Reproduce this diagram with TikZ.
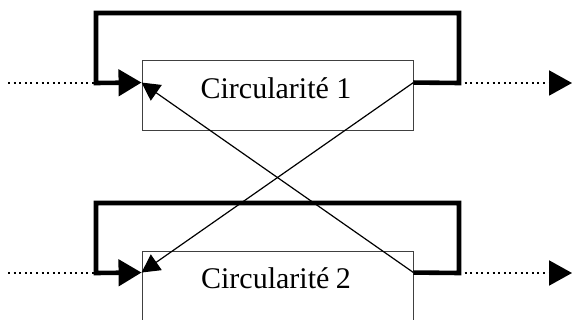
\documentclass[tikz,border=0pt]{standalone}
\usepackage{fontspec}
\setmainfont{Liberation Serif}
\usetikzlibrary{arrows.meta,calc}
\begin{document}
\begin{tikzpicture}[x=1pt,y=1pt,
  boxstyle/.style={draw=black!75,line width=0.9pt,rectangle,minimum width=271pt,minimum height=70pt,inner sep=0pt},
  lbl/.style={font=\fontsize{30}{36}\selectfont,inner sep=0pt,anchor=base},
  loopline/.style={line width=4.6pt,line join=miter,-{Triangle[length=23pt,width=26pt]}},
  dotline/.style={line width=2pt,dash pattern=on 2pt off 3.6pt},
  dotarrow/.style={dotline,-{Triangle[length=23pt,width=25pt]}},
  crossline/.style={line width=1.2pt,-{Triangle[length=18pt,width=19pt]}}]
\useasboundingbox (0,0) rectangle (572,320);
\node[boxstyle] (box1) at (277.5,225) {};
\node[boxstyle] (box2) at (277.5,34) {};
\node[lbl] (t1) at (276,221) {Circularité 1};
\node[lbl] (t2) at (276,31) {Circularité\kern-1pt\ 2};
\coordinate (in1) at ($(box1.north west)+(0,-23)$);
\coordinate (out1) at ($(box1.north east)+(0,-23)$);
\coordinate (in2) at ($(box2.north west)+(0,-22)$);
\coordinate (out2) at ($(box2.north east)+(0,-22)$);
\coordinate (l1) at (96,237);
\coordinate (r1) at (459,237);
\coordinate (l2) at (96,47);
\coordinate (r2) at (459,47);
\coordinate (s1) at (8,237);
\coordinate (e1) at (572,237);
\coordinate (s2) at (8,47);
\coordinate (e2) at (572,47);
% feedback loops
\draw[loopline] (out1) -- (r1) -- ++(0,70) -| (l1) -- (in1);
\draw[loopline] (out2) -- (r2) -- ++(0,70) -| (l2) -- (in2);
% dotted inputs and outputs
\draw[dotline] (s1) -- (l1);
\draw[dotline] (s2) -- (l2);
\draw[dotarrow] (r1) -- (e1);
\draw[dotarrow] (r2) -- (e2);
% cross connections
\draw[crossline] (out1) -- (in2);
\draw[crossline] (out2) -- (in1);
\end{tikzpicture}
\end{document}
